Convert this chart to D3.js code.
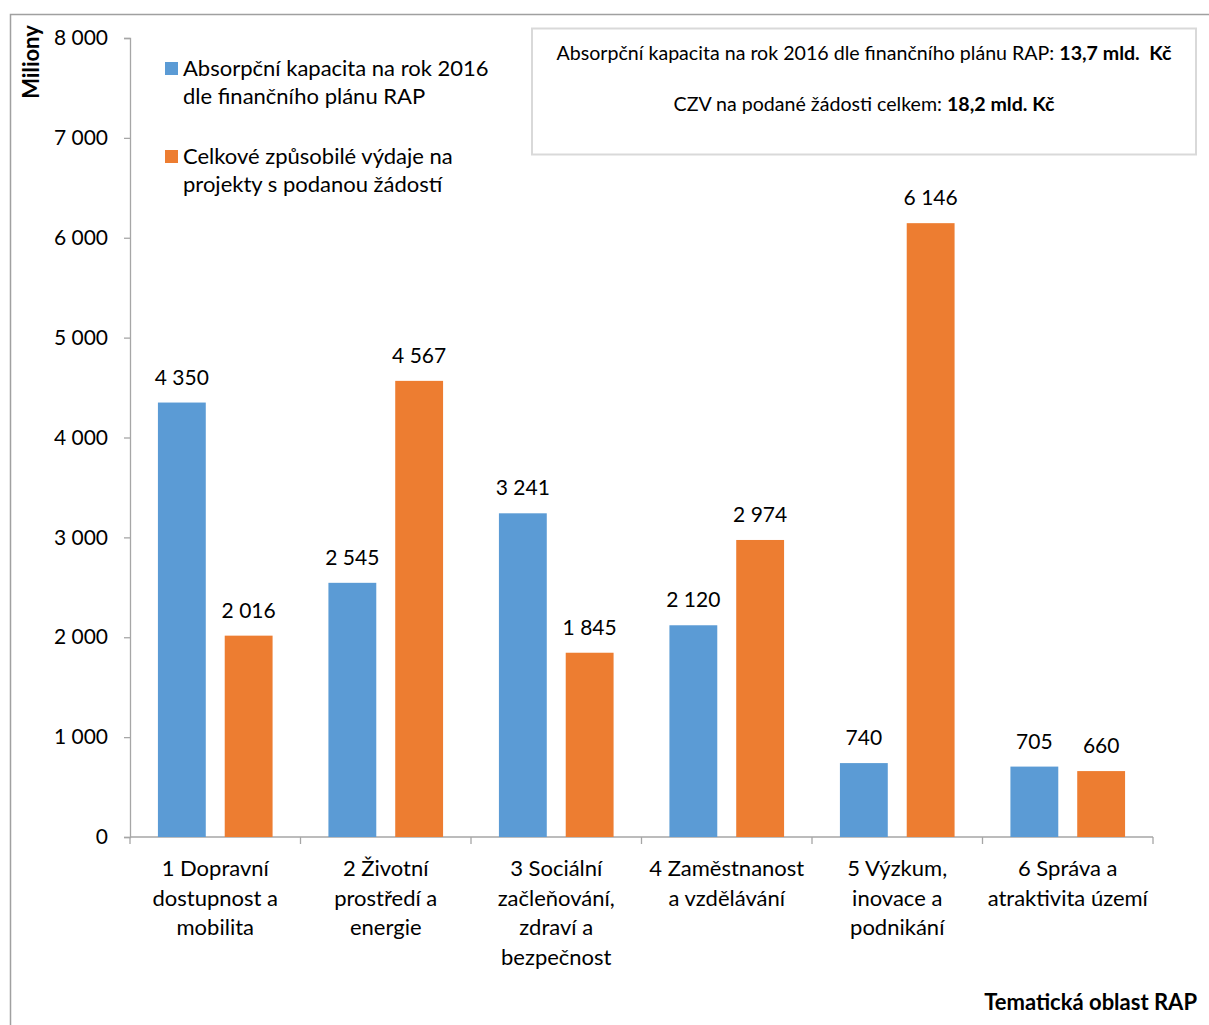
<!DOCTYPE html>
<html><head><meta charset="utf-8">
<script src="https://cdn.jsdelivr.net/npm/d3@7"></script>
<style>
html,body{margin:0;padding:0;background:#fff;}
svg{display:block;font-family:Lato,"Noto Sans",sans-serif;}
</style></head>
<body>
<svg id="chart" width="1209" height="1025"></svg>
<script>
const categories = [
  ["1 Dopravní","dostupnost a","mobilita"],
  ["2 Životní","prostředí a","energie"],
  ["3 Sociální","začleňování,","zdraví a","bezpečnost"],
  ["4 Zaměstnanost","a vzdělávání"],
  ["5 Výzkum,","inovace a","podnikání"],
  ["6 Správa a","atraktivita území"]
];
const seriesNames = [
  ["Absorpční kapacita na rok 2016","dle finančního plánu RAP"],
  ["Celkové způsobilé výdaje na","projekty s podanou žádostí"]
];
const absorpcni = [4350, 2545, 3241, 2120, 740, 705];
const czv = [2016, 4567, 1845, 2974, 6146, 660];
const yTicks = [0,1000,2000,3000,4000,5000,6000,7000,8000];
const colors = ["#5B9BD5","#ED7D31"];

const svg = d3.select("#chart");
const fmt = v => d3.format(",")(v).replace(/,/g, "\u00a0");

// outer frame
svg.append("path").attr("d","M10.5,1025 V14.5 H1209").attr("fill","none").attr("stroke","#a0a0a0").attr("stroke-width",1.5);

const catIdx = d3.range(categories.length);
const x = d3.scaleBand().domain(catIdx).range([130,1153]).paddingInner(0).paddingOuter(0);
const xs = d3.scaleBand().domain([0,1]).range([0,x.bandwidth()]).paddingInner(0.2836).paddingOuter(0.418);
const y = d3.scaleLinear().domain([0,8000]).range([837,38]);

const FS = 21;
const FS2 = 22;
// y axis
const yAxis = svg.append("g").attr("transform","translate(130,0)")
  .call(d3.axisLeft(y).tickValues(yTicks).tickSize(6).tickPadding(16).tickFormat(fmt));
yAxis.select(".domain").attr("stroke","#a6a6a6").attr("stroke-width",1.3);
yAxis.selectAll(".tick line").attr("stroke","#a6a6a6").attr("stroke-width",1.3);
yAxis.selectAll(".tick text").attr("font-size",FS).attr("fill","#000").attr("font-family","Lato");

// x axis
const xAxis = svg.append("g").attr("transform","translate(0,837)");
xAxis.append("line").attr("x1",130).attr("x2",1153).attr("stroke","#a6a6a6").attr("stroke-width",1.3);
const bounds = catIdx.map(i => x(i)).concat([x(catIdx.length-1)+x.bandwidth()]);
xAxis.selectAll("line.tk").data(bounds).join("line").attr("class","tk")
  .attr("x1",d=>d).attr("x2",d=>d).attr("y1",0).attr("y2",7).attr("stroke","#a6a6a6").attr("stroke-width",1.3);
const catLab = xAxis.selectAll("text.cat").data(categories).join("text").attr("class","cat")
  .attr("x",(d,i)=>x(i)+x.bandwidth()/2).attr("y",39)
  .attr("text-anchor","middle").attr("font-size",FS2).attr("fill","#000");
catLab.selectAll("tspan").data(d=>d).join("tspan")
  .attr("x",function(){return this.parentNode.getAttribute("x");})
  .attr("dy",(d,i)=>i===0?0:29.5).text(d=>d);

// bars
const series = [absorpcni, czv];
series.forEach((vals, s) => {
  svg.append("g").selectAll("rect").data(vals).join("rect")
    .attr("x",(d,i)=>x(i)+xs(s)).attr("width",xs.bandwidth())
    .attr("y",d=>y(d)).attr("height",d=>y(0)-y(d)).attr("fill",colors[s]);
  svg.append("g").selectAll("text").data(vals).join("text")
    .attr("x",(d,i)=>x(i)+xs(s)+xs.bandwidth()/2).attr("y",d=>y(d)-18)
    .attr("text-anchor","middle").attr("font-size",FS).attr("fill","#000").text(fmt);
});

// legend
const leg = svg.append("g");
const legY = [62, 150];
seriesNames.forEach((lines, s) => {
  leg.append("rect").attr("x",165).attr("y",legY[s]).attr("width",13).attr("height",13).attr("fill",colors[s]);
  const t = leg.append("text").attr("x",183).attr("y",legY[s]+13.5).attr("font-size",FS2).attr("fill","#000");
  lines.forEach((l,i)=>t.append("tspan").attr("x",183).attr("dy",i===0?0:28.5).text(l));
});

// info box
svg.append("rect").attr("x",532).attr("y",28.5).attr("width",664).attr("height",126)
  .attr("fill","#fff").attr("stroke","#d9d9d9").attr("stroke-width",2);
const info = [["Absorpční kapacita na rok 2016 dle finančního plánu RAP: ","13,7 mld.\u00a0 Kč"],
              ["CZV na podané žádosti celkem: ","18,2 mld. Kč"]];
info.forEach((p,i)=>{
  const t = svg.append("text").attr("x",864).attr("y",[60,111][i]).attr("text-anchor","middle")
    .attr("font-size",19.6).attr("fill","#000");
  t.append("tspan").text(p[0]);
  t.append("tspan").attr("font-weight","bold").text(p[1]);
});

// axis titles
svg.append("text").attr("transform","translate(39,62) rotate(-90)").attr("text-anchor","middle")
  .attr("font-size",22).attr("font-weight","bold").attr("fill","#000").text("Miliony");
svg.append("text").attr("x",1197).attr("y",1010).attr("text-anchor","end")
  .attr("font-size",22).attr("font-weight","bold").attr("fill","#000").text("Tematická oblast RAP");
</script>
</body></html>
